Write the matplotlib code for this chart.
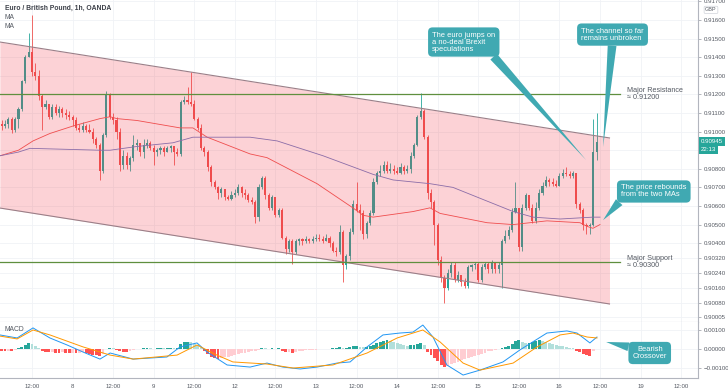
import numpy as np
import matplotlib.pyplot as plt

# EUR/GBP 1h candles, hour index counted from Oct 7 00:00 (weekend skipped)
first_hour = 3
first_open = 0.9104
closes = [0.9103, 0.9104, 0.9107, 0.9101, 0.9107, 0.9112, 0.9127, 0.9140, 0.9143, 0.9132,
          0.9130, 0.9119, 0.9113, 0.9115, 0.9108, 0.9113, 0.9110, 0.9112, 0.9110, 0.9109,
          0.9108, 0.9106, 0.9102, 0.9101, 0.9103, 0.9101, 0.9100, 0.9096, 0.9093, 0.9079,
          0.9098, 0.9120, 0.9108, 0.9106, 0.9100, 0.9082, 0.9087, 0.9082, 0.9086, 0.9093,
          0.9094, 0.9089, 0.9093, 0.9094, 0.9091, 0.9089, 0.9090, 0.9091, 0.9089, 0.9091,
          0.9092, 0.9089, 0.9088, 0.9116, 0.9117, 0.9116, 0.9115, 0.9107, 0.9102, 0.9091,
          0.9089, 0.9081, 0.9073, 0.9070, 0.9067, 0.9069, 0.9065, 0.9064, 0.9066, 0.9067,
          0.9070, 0.9067, 0.9066, 0.9063, 0.9062, 0.9054, 0.9070, 0.9075, 0.9066, 0.9059,
          0.9065, 0.9055, 0.9058, 0.9043, 0.9037, 0.9041, 0.9035, 0.9041, 0.9042, 0.9041,
          0.9042, 0.9041, 0.9042, 0.9043, 0.9042, 0.9041, 0.9043, 0.9040, 0.9036, 0.9035,
          0.9046, 0.9028, 0.9033, 0.9046, 0.9061, 0.9058, 0.9056, 0.9045, 0.9051, 0.9056,
          0.9073, 0.9078, 0.9079, 0.9082, 0.9079, 0.9080, 0.9079, 0.9078, 0.9081, 0.9079,
          0.9080, 0.9087, 0.9093, 0.9108, 0.9111, 0.9097, 0.9067, 0.9062, 0.9050, 0.9031,
          0.9021, 0.9016, 0.9024, 0.9028, 0.9020, 0.9023, 0.9019, 0.9017, 0.9027, 0.9028,
          0.9029, 0.9020, 0.9027, 0.9029, 0.9026, 0.9030, 0.9026, 0.9028, 0.9041, 0.9044,
          0.9047, 0.9057, 0.9059, 0.9038, 0.9059, 0.9066, 0.9059, 0.9052, 0.9059, 0.9067,
          0.9071, 0.9074, 0.9073, 0.9072, 0.9071, 0.9076, 0.9078, 0.9077, 0.9076, 0.9078,
          0.9061, 0.9058, 0.9050, 0.9049, 0.9050, 0.9089, 0.90945]
highs = [0.9106, 0.9106, 0.9108, 0.9108, 0.9108, 0.9113, 0.9128, 0.9141, 0.9153, 0.9163,
         0.9137, 0.9133, 0.9120, 0.9117, 0.9115, 0.9115, 0.9115, 0.9114, 0.9113, 0.9112,
         0.9111, 0.9109, 0.9108, 0.9104, 0.9105, 0.9104, 0.9104, 0.9102, 0.9097, 0.9094,
         0.9099, 0.9122, 0.9121, 0.9110, 0.9108, 0.9102, 0.9090, 0.9089, 0.9087, 0.9098,
         0.9096, 0.9094, 0.9096, 0.9096, 0.9095, 0.9093, 0.9091, 0.9092, 0.9092, 0.9092,
         0.9093, 0.9092, 0.9091, 0.9117, 0.9119, 0.9124, 0.9132, 0.9117, 0.9108, 0.9104,
         0.9092, 0.9090, 0.9082, 0.9074, 0.9071, 0.9070, 0.9069, 0.9066, 0.9068, 0.9069,
         0.9072, 0.9071, 0.9069, 0.9067, 0.9065, 0.9063, 0.9072, 0.9076, 0.9076, 0.9067,
         0.9066, 0.9065, 0.9059, 0.9059, 0.9044, 0.9042, 0.9042, 0.9042, 0.9043, 0.9043,
         0.9044, 0.9043, 0.9044, 0.9045, 0.9045, 0.9044, 0.9045, 0.9044, 0.9041, 0.9038,
         0.9050, 0.9047, 0.9034, 0.9048, 0.9063, 0.9073, 0.9061, 0.9058, 0.9052, 0.9058,
         0.9075, 0.9079, 0.9082, 0.9084, 0.9084, 0.9083, 0.9082, 0.9081, 0.9083, 0.9082,
         0.9082, 0.9089, 0.9094, 0.9109, 0.9121, 0.9112, 0.9098, 0.9069, 0.9063, 0.9051,
         0.9033, 0.9023, 0.9026, 0.9030, 0.9030, 0.9025, 0.9023, 0.9021, 0.9028, 0.9029,
         0.9030, 0.9030, 0.9029, 0.9030, 0.9030, 0.9031, 0.9030, 0.9030, 0.9042, 0.9047,
         0.9049, 0.9059, 0.9073, 0.9059, 0.9061, 0.9067, 0.9066, 0.9061, 0.9062, 0.9069,
         0.9073, 0.9076, 0.9075, 0.9075, 0.9074, 0.9078, 0.9080, 0.9081, 0.9079, 0.9079,
         0.9078, 0.9062, 0.9059, 0.9051, 0.9051, 0.9107, 0.9110]
lows = [0.9101, 0.9102, 0.9102, 0.9099, 0.9100, 0.9102, 0.9111, 0.9126, 0.9140, 0.9130,
        0.9128, 0.9117, 0.9101, 0.9112, 0.9107, 0.9107, 0.9109, 0.9108, 0.9108, 0.9107,
        0.9106, 0.9103, 0.9101, 0.9100, 0.9100, 0.9100, 0.9099, 0.9094, 0.9091, 0.9074,
        0.9078, 0.9097, 0.9107, 0.9104, 0.9096, 0.9079, 0.9080, 0.9080, 0.9079, 0.9084,
        0.9090, 0.9087, 0.9086, 0.9091, 0.9090, 0.9082, 0.9087, 0.9088, 0.9087, 0.9089,
        0.9089, 0.9082, 0.9087, 0.9087, 0.9115, 0.9115, 0.9114, 0.9106, 0.9101, 0.9090,
        0.9087, 0.9079, 0.9071, 0.9069, 0.9064, 0.9065, 0.9063, 0.9063, 0.9063, 0.9065,
        0.9066, 0.9065, 0.9064, 0.9062, 0.9061, 0.9051, 0.9052, 0.9069, 0.9064, 0.9058,
        0.9058, 0.9054, 0.9054, 0.9042, 0.9034, 0.9035, 0.9029, 0.9034, 0.9039, 0.9039,
        0.9040, 0.9040, 0.9040, 0.9041, 0.9041, 0.9040, 0.9041, 0.9038, 0.9035, 0.9033,
        0.9034, 0.9019, 0.9026, 0.9031, 0.9045, 0.9057, 0.9047, 0.9042, 0.9043, 0.9050,
        0.9055, 0.9072, 0.9076, 0.9078, 0.9078, 0.9078, 0.9077, 0.9077, 0.9077, 0.9077,
        0.9078, 0.9078, 0.9086, 0.9092, 0.9107, 0.9096, 0.9064, 0.9059, 0.9039, 0.9028,
        0.9019, 0.9008, 0.9015, 0.9022, 0.9019, 0.9019, 0.9017, 0.9016, 0.9016, 0.9025,
        0.9026, 0.9019, 0.9019, 0.9026, 0.9024, 0.9024, 0.9024, 0.9024, 0.9016, 0.9040,
        0.9042, 0.9046, 0.9056, 0.9036, 0.9036, 0.9058, 0.9058, 0.9051, 0.9051, 0.9058,
        0.9066, 0.9070, 0.9071, 0.9071, 0.9070, 0.9071, 0.9075, 0.9076, 0.9075, 0.9075,
        0.9059, 0.9056, 0.9047, 0.9045, 0.9045, 0.9049, 0.9085]

# moving averages, sampled (hour, price)
ma_red_t = [2.5, 8.0, 12.3, 17.3, 24.1, 32.1, 35.1, 37.1, 43.0, 55.8, 59.6, 63.8, 76.5,
            81.5, 96.3, 106.9, 109.9, 112.9, 124.7, 129.7, 132.7, 146.6, 154.3, 164.3,
            174.1, 176.2, 177.9, 180]
ma_red = [0.9087, 0.9090, 0.9095, 0.9099, 0.9103, 0.9107, 0.9108, 0.9107, 0.9106, 0.9102,
          0.9102, 0.9097, 0.9088, 0.9086, 0.9072, 0.9059, 0.9055, 0.9054, 0.9057, 0.9059,
          0.9056, 0.9051, 0.9050, 0.9052, 0.9051, 0.9049, 0.9048, 0.9050]
ma_blue_t = [2.5, 8.0, 11.4, 32.1, 35.1, 43.0, 53.7, 59.6, 76.5, 84.5, 98.1, 112.9, 118.8,
             129.7, 136.5, 154.3, 160.2, 168.2, 177.9, 180]
ma_blue = [0.9087, 0.9089, 0.9091, 0.9090, 0.9090, 0.9092, 0.9094, 0.9097, 0.9097, 0.9095,
           0.9087, 0.9077, 0.9074, 0.9072, 0.9070, 0.9057, 0.9054, 0.9053, 0.9054, 0.9054]

# parallel channel and levels
channel_t = [2.5, 182.8]
channel_top = [0.91482, 0.90966]
channel_bottom = [0.90589, 0.90073]
level_t = [2.5, 186.0]
resistance = 0.9120
support = 0.9030
last_price = 0.90945

# MACD
macd_t = [2.5, 7.6, 12.3, 17.3, 22.4, 27.1, 32.1, 35.1, 41.9, 51.9, 55.8, 60.8, 63.8, 69.7,
          76.5, 81.5, 86.2, 91.3, 96.3, 102.2, 106.1, 111.1, 115.8, 120.8, 124.7, 127.6,
          130.6, 134.7, 139.5, 144.5, 151.3, 156.3, 164.3, 170.2, 173.2, 177.0, 179.1]
macd = [0.00074, 0.00058, 0.00111, 0.00058, 0.00021, -0.00016, -0.00053, -0.00021, -0.00053,
        -0.00042, 0.00011, 0.00032, -0.00016, -0.00084, -0.00095, -0.00074, -0.00095,
        -0.00105, -0.00095, -0.00074, -0.00068, 0.00011, 0.00074, 0.00084, 0.00089, 0.00126,
        0.00063, -0.00084, -0.00137, -0.00111, -0.00068, -0.00005, 0.00084, 0.00095, 0.00084,
        0.00032, 0.00063]
signal_t = [2.5, 7.6, 12.3, 17.3, 27.1, 35.1, 41.9, 54.9, 60.8, 66.7, 71.4, 81.5, 89.2,
            101.0, 111.1, 120.0, 127.6, 132.7, 139.5, 144.5, 154.3, 161.4, 168.2, 172.0,
            176.2, 179.1]
signal = [0.00068, 0.00053, 0.00100, 0.00074, 0.00011, -0.00032, -0.00053, -0.00032, 0.00021,
          -0.00032, -0.00068, -0.00079, -0.00100, -0.00084, -0.00021, 0.00058, 0.00100,
          0.00037, -0.00074, -0.00111, -0.00074, 0.00011, 0.00074, 0.00084, 0.00063, 0.00058]
hist = [-0.00010, -0.00012, -0.00008, -0.00010, -0.00004, 0.00005, 0.00012, 0.00022, 0.00030,
        0.00028, 0.00018, 0.00004, -0.00008, -0.00014, -0.00018, -0.00016, -0.00019, -0.00020,
        -0.00018, -0.00019, -0.00021, -0.00020, -0.00022, -0.00020, -0.00017, -0.00020,
        -0.00025, -0.00030, -0.00032, -0.00038, -0.00025, 0.00002, 0.00006, 0.00003, -0.00005,
        -0.00012, -0.00014, -0.00016, -0.00012, -0.00003, 0.00002, 0.00001, 0.00003, 0.00004,
        0.00003, 0.00002, 0.00004, 0.00005, 0.00004, 0.00005, 0.00006, 0.00004, 0.00006,
        0.00028, 0.00035, 0.00037, 0.00036, 0.00028, 0.00020, 0.00008, -0.00010, -0.00025,
        -0.00040, -0.00048, -0.00050, -0.00046, -0.00044, -0.00040, -0.00036, -0.00032,
        -0.00026, -0.00022, -0.00019, -0.00016, -0.00013, -0.00012, -0.00003, 0.00006, 0.00003,
        -0.00002, 0.00004, 0.00002, 0.00003, -0.00012, -0.00018, -0.00016, -0.00020, -0.00014,
        -0.00011, -0.00009, -0.00007, -0.00006, -0.00004, -0.00003, -0.00002, -0.00002,
        0.00001, 0.00002, 0.00003, 0.00005, 0.00008, 0.00006, 0.00007, 0.00010, 0.00014,
        0.00016, 0.00013, 0.00010, 0.00012, 0.00016, 0.00022, 0.00030, 0.00037, 0.00043,
        0.00046, 0.00041, 0.00035, 0.00029, 0.00024, 0.00019, 0.00016, 0.00019, 0.00023,
        0.00028, 0.00030, 0.00020, -0.00015, -0.00030, -0.00045, -0.00065, -0.00085, -0.00095,
        -0.00088, -0.00080, -0.00074, -0.00066, -0.00060, -0.00054, -0.00047, -0.00041,
        -0.00035, -0.00031, -0.00026, -0.00021, -0.00012, -0.00008, -0.00005, -0.00002,
        0.00005, 0.00010, 0.00018, 0.00028, 0.00040, 0.00045, 0.00035, 0.00030, 0.00033,
        0.00038, 0.00042, 0.00046, 0.00044, 0.00038, 0.00032, 0.00027, 0.00022, 0.00018,
        0.00014, 0.00010, 0.00007, 0.00004, -0.00008, -0.00018, -0.00026, -0.00032, -0.00036,
        -0.00012, 0.00002]

price_ticks = [0.917, 0.916, 0.915, 0.914, 0.913, 0.912, 0.911, 0.910, 0.909, 0.908, 0.907,
               0.906, 0.905, 0.904, 0.9032, 0.9024, 0.9016, 0.9008, 0.90005]
macd_ticks = [0.001, 0.0, -0.001]
x_ticks = [12, 24, 36, 48, 60, 72, 84, 96, 108, 120, 132, 144, 156, 168, 180, 192, 204]
x_labels = ["12:00", "8", "12:00", "9", "12:00", "12", "12:00", "13", "12:00", "14",
            "12:00", "15", "12:00", "16", "12:00", "19", "12:00"]

plt.rcParams['font.family'] = ['Liberation Sans', 'DejaVu Sans']

UP = '#26a69a'
DOWN = '#ef5350'
TEAL = '#40a9b2'
GRID = '#f0f2f6'
AXC = '#b2b5be'
TXT = '#555a63'

fig = plt.figure(figsize=(7.28, 3.91), dpi=100)
ax = fig.add_axes([0, 0.1765, 698 / 728, 0.8235])
axm = fig.add_axes([0, 0.0332, 698 / 728, 0.1433], sharex=ax)

hours = np.arange(first_hour, first_hour + len(closes))
closes_a = np.array(closes)
opens = np.r_[first_open, closes_a[:-1]]
up = closes_a >= opens
colors = np.where(up, UP, DOWN)

ax.vlines(hours, lows, highs, colors=colors, lw=0.6, zorder=2)
body_h = np.maximum(np.abs(closes_a - opens), 0.00002)
ax.bar(hours, body_h, bottom=np.minimum(opens, closes_a), width=0.62, color=colors,
       lw=0, zorder=2)

ax.plot(ma_red_t, ma_red, color='#ef5350', lw=0.6, zorder=2.5)
ax.plot(ma_blue_t, ma_blue, color='#6f7cc4', lw=0.6, zorder=2.5)

# channel drawn over the series, like a TradingView drawing
ax.fill_between(channel_t, channel_bottom, channel_top, color='#f23645', alpha=0.22,
                lw=0, zorder=3)
ax.plot(channel_t, channel_top, color='#9a7f88', lw=0.8, zorder=3.2)
ax.plot(channel_t, channel_bottom, color='#9a7f88', lw=0.8, zorder=3.2)

ax.plot(level_t, [resistance, resistance], color='#5f8f3e', lw=0.9, zorder=3.3)
ax.plot(level_t, [support, support], color='#5f8f3e', lw=0.9, zorder=3.3)
ax.text(188.0, resistance, "Major Resistance\n\u2248 0.91200", fontsize=5.2, color=TXT,
        va='center', ha='left', linespacing=1.0, zorder=5)
ax.text(188.0, support, "Major Support\n\u2248 0.90300", fontsize=5.2, color=TXT,
        va='center', ha='left', linespacing=1.0, zorder=5)

ax.set_xlim(2.535, 208.98)
ax.set_ylim(0.89976, 0.91708)
ax.set_yticks(price_ticks)
# the 0.90900 label sits under the last-price tag
ax.set_yticklabels(["" if p == 0.909 else f"{p:.5f}" for p in price_ticks])
ax.yaxis.tick_right()
ax.tick_params(axis='y', labelsize=4.4, labelcolor=TXT, color='#9598a1', length=2,
               width=0.5, pad=2)
ax.tick_params(axis='x', length=0, labelbottom=False)
ax.set_xticks(x_ticks)
ax.grid(True, color=GRID, lw=0.6, zorder=0)
for s in ['top', 'left']:
    ax.spines[s].set_visible(False)
for s in ['right', 'bottom']:
    ax.spines[s].set_color(AXC)
    ax.spines[s].set_linewidth(0.8)

ax.text(0.007, 0.985, "Euro / British Pound, 1h, OANDA", transform=ax.transAxes,
        fontsize=4.9, fontweight='bold', color='#3c4049', va='top', zorder=6)
ax.text(0.007, 0.955, "MA", transform=ax.transAxes, fontsize=4.9, color=TXT, va='top',
        zorder=6)
ax.text(0.007, 0.93, "MA", transform=ax.transAxes, fontsize=4.9, color=TXT, va='top',
        zorder=6)
ax.text(1.0186, 0.91655, "GBP", fontsize=4.0, color=TXT, ha='center', va='center',
        transform=ax.get_yaxis_transform(), clip_on=False, zorder=6,
        bbox=dict(boxstyle='round,pad=0.2', fc='white', ec='#d0d3da', lw=0.5))

# last price tag
ax.text(1.004, last_price, "0.90945", transform=ax.get_yaxis_transform(), fontsize=4.4,
        color='white', ha='left', va='center', clip_on=False, zorder=7,
        bbox=dict(boxstyle='square,pad=0.35', fc='#26a69a', ec='none'))
ax.text(1.004, last_price - 0.00040, "22:13", transform=ax.get_yaxis_transform(),
        fontsize=4.4, color='white', ha='left', va='center', clip_on=False, zorder=7,
        bbox=dict(boxstyle='square,pad=0.35', fc='#26a69a', ec='none'))

# callouts
def callout(axis, text, tip, pos, rel, ha='left'):
    axis.annotate(text, xy=tip, xytext=pos, fontsize=5.4, color='white', ha='center',
                  va='center', multialignment=ha, linespacing=1.0, zorder=8,
                  annotation_clip=False,
                  bbox=dict(boxstyle='round,pad=0.55,rounding_size=0.6', fc=TEAL,
                            ec='none'),
                  arrowprops=dict(arrowstyle='wedge,tail_width=0.45,shrink_factor=0.5',
                                  fc=TEAL, ec='none', relpos=rel, mutation_scale=14,
                                  shrinkA=0, shrinkB=0))

callout(ax, "The euro jumps on\na no-deal Brexit\nspeculations", (175.9, 0.90847),
        (139.7, 0.91482), (0.9, 0.05))
callout(ax, "The channel so far\nremains unbroken", (180.9, 0.90917), (183.7, 0.91522),
        (0.5, 0.05))
callout(ax, "The price rebounds\nfrom the two MAs", (180.9, 0.90524), (195.9, 0.90678),
        (0.06, 0.2))

# MACD panel
hist_a = np.array(hist)
prev = np.r_[hist_a[0], hist_a[:-1]]
hcol = []
for h, p in zip(hist_a, prev):
    if h >= 0:
        hcol.append('#26a69a' if h >= p else '#b2dfdb')
    else:
        hcol.append('#ff5252' if h <= p else '#ffcdd2')
axm.bar(hours, hist_a, width=0.85, color=hcol, lw=0, zorder=2)
axm.plot(macd_t, macd, color='#2196f3', lw=0.7, zorder=3)
axm.plot(signal_t, signal, color='#ff9800', lw=0.7, zorder=3)
axm.set_ylim(-0.001526, 0.001421)
axm.set_yticks(macd_ticks)
axm.set_yticklabels(["0.00100", "0.00000", "\u22120.00100"])
axm.yaxis.tick_right()
axm.tick_params(axis='y', labelsize=4.4, labelcolor=TXT, color='#9598a1', length=2,
                width=0.5, pad=2)
axm.set_xticks(x_ticks)
axm.set_xticklabels(x_labels)
axm.tick_params(axis='x', labelsize=4.4, labelcolor=TXT, length=0, pad=4)
axm.grid(True, color=GRID, lw=0.6, zorder=0)
for s in ['top', 'left']:
    axm.spines[s].set_visible(False)
for s in ['right', 'bottom']:
    axm.spines[s].set_color(AXC)
    axm.spines[s].set_linewidth(0.8)
axm.text(0.007, 0.93, "MACD", transform=axm.transAxes, fontsize=4.9, color=TXT, va='top')

callout(axm, "Bearish\nCrossover", (181.8, 0.00037), (194.7, -0.00021), (0.06, 0.85),
        ha='center')

fig.savefig("out.png", dpi=100)
